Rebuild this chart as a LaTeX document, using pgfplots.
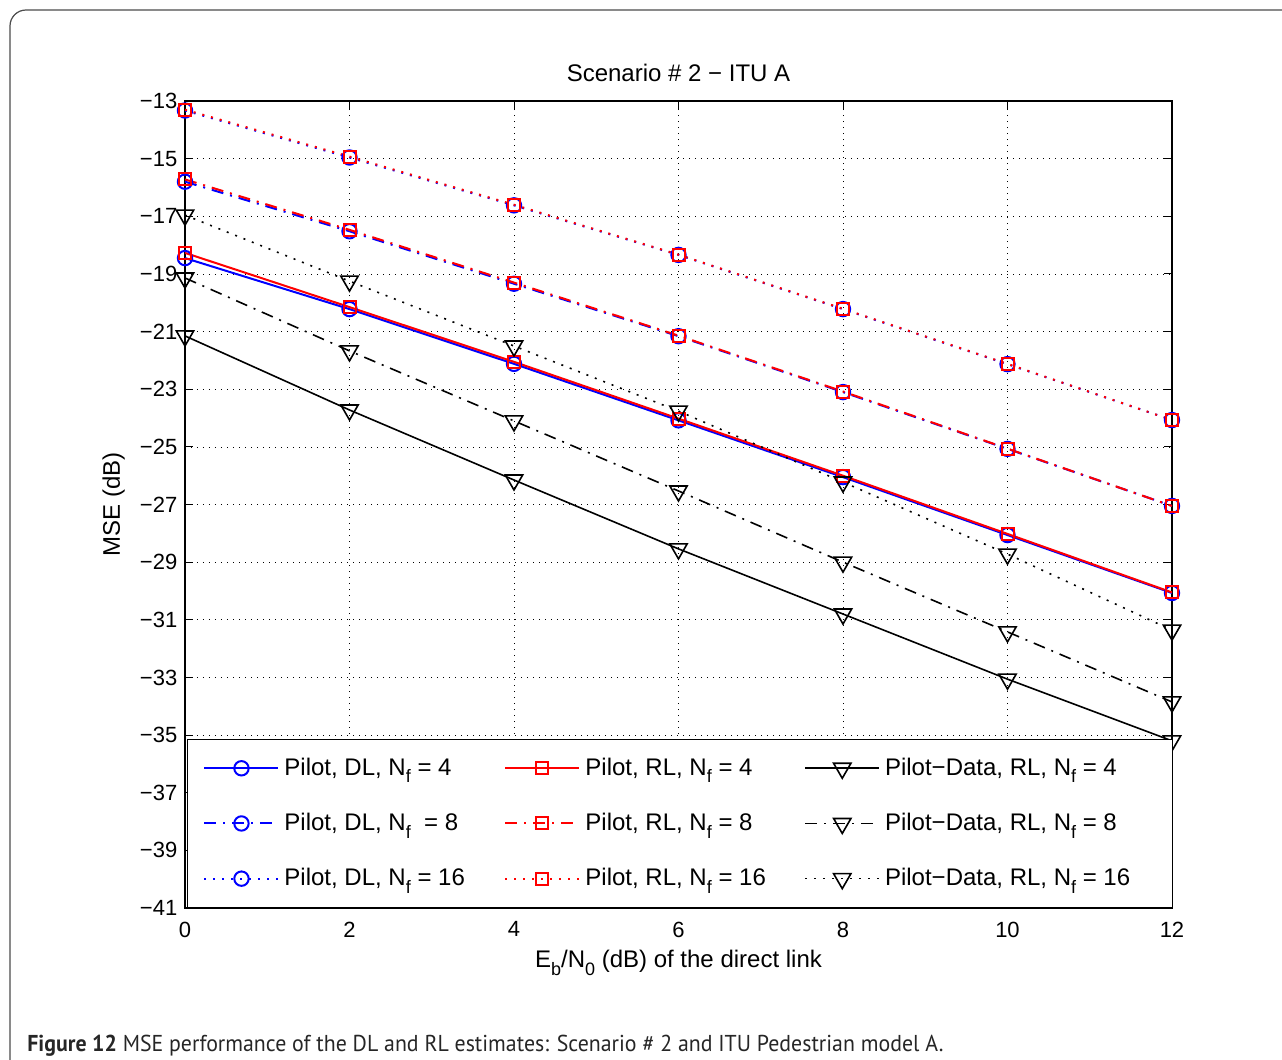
\documentclass[border=0pt]{standalone}
\usepackage{pgfplots}
\pgfplotsset{compat=1.18}
\usepackage{fontspec}
\setmainfont{Liberation Sans}
\newfontfamily\capfont{PT Sans}
\newcommand{\sub}[1]{\raisebox{-0.6ex}{\fontsize{9}{9}\selectfont #1}}
\newcommand{\lent}[2]{\makebox[#1][l]{\rule[-4pt]{0pt}{12pt}#2}}
\begin{document}
\fontsize{11}{13}\selectfont
\begin{tikzpicture}
\useasboundingbox (0,0) rectangle (641pt,-530pt);
\draw[black!70, line width=0.6pt, rounded corners=8pt] (5pt,-5pt) rectangle (665pt,-550pt);
\begin{axis}[
  at={(92.5pt,-454pt)}, anchor=south west, scale only axis,
  width=493.5pt, height=403.5pt,
  xmin=0, xmax=12, ymin=-41, ymax=-13,
  xtick={0,2,...,12},
  ytick={-41,-39,...,-13},
  yticklabels={−41,−39,−37,−35,−33,−31,−29,−27,−25,−23,−21,−19,−17,−15,−13},
  xticklabels={0,2,4,6,8,10,12},
  xticklabel style={yshift=-3pt},
  tick align=inside, major tick length=4pt,
  tick style={black, line width=0.5pt},
  axis line style={black, line width=0.6pt},
  grid=major,
  grid style={black, line width=0.35pt, dash pattern=on 0.5pt off 2.5pt},
  title={Scenario \# 2 − ITU A},
  title style={font=\fontsize{12}{14}\selectfont},
  xlabel={E\sub{b}/N\sub{0} (dB) of the direct link},
  xlabel style={font=\fontsize{12}{14}\selectfont, yshift=1pt},
  ylabel={MSE (dB)},
  ylabel style={font=\fontsize{12}{14}\selectfont},
  legend columns=3,
  legend image code/.code={\draw[mark repeat=2,mark phase=2,#1] plot coordinates {(0pt,0pt) (18.5pt,0pt) (37pt,0pt)};},
  legend style={at={(rel axis cs:0.002,0)}, anchor=south west, draw=black, line width=0.5pt,
    inner xsep=8pt, inner ysep=8.5pt, column sep=0pt, row sep=15.75pt,
    font=\fontsize{12}{14}\selectfont,
    nodes={inner xsep=2.5pt, inner ysep=0.75pt}},
  legend cell align=left,
  dd/.style={dash pattern=on 6pt off 3.5pt on 1pt off 3.5pt},
  dt/.style={dash pattern=on 1pt off 3.5pt},
]
% Nf = 4
\addplot[blue, line width=1pt, mark=o, mark size=3.6pt, mark options={solid}] coordinates {(0,-18.45) (2,-20.22) (4,-22.12) (6,-24.08) (8,-26.05) (10,-28.06) (12,-30.07)};
\addlegendentry{\lent{107.5pt}{Pilot, DL, N\sub{f} = 4}}
\addplot[red, line width=1pt, mark=square, mark size=3pt, mark options={solid}] coordinates {(0,-18.27) (2,-20.15) (4,-22.05) (6,-24.02) (8,-26.0) (10,-28.02) (12,-30.05)};
\addlegendentry{\lent{107pt}{Pilot, RL, N\sub{f} = 4}}
\addplot[black, line width=0.8pt, mark=triangle, mark size=5pt, mark options={solid, rotate=180}] coordinates {(0,-21.15) (2,-23.72) (4,-26.15) (6,-28.54) (8,-30.8) (10,-33.06) (12,-35.2)};
\addlegendentry{\lent{133pt}{Pilot−Data, RL, N\sub{f} = 4}}
% Nf = 8
\addplot[blue, line width=1pt, dd, mark=o, mark size=3.6pt, mark options={solid}] coordinates {(0,-15.8) (2,-17.52) (4,-19.34) (6,-21.16) (8,-23.1) (10,-25.07) (12,-27.05)};
\addlegendentry{\lent{107.5pt}{Pilot, DL, N\sub{f}\ \ = 8}}
\addplot[red, line width=1pt, dd, mark=square, mark size=3pt, mark options={solid}] coordinates {(0,-15.72) (2,-17.47) (4,-19.3) (6,-21.14) (8,-23.08) (10,-25.06) (12,-27.05)};
\addlegendentry{\lent{107pt}{Pilot, RL, N\sub{f} = 8}}
\addplot[black, line width=0.8pt, dd, mark=triangle, mark size=5pt, mark options={solid, rotate=180}] coordinates {(0,-19.14) (2,-21.67) (4,-24.1) (6,-26.53) (8,-29.0) (10,-31.42) (12,-33.85)};
\addlegendentry{\lent{133pt}{Pilot−Data, RL, N\sub{f} = 8}}
% Nf = 16
\addplot[blue, line width=1pt, dt, mark=o, mark size=3.6pt, mark options={solid}] coordinates {(0,-13.33) (2,-14.96) (4,-16.62) (6,-18.34) (8,-20.22) (10,-22.13) (12,-24.07)};
\addlegendentry{\lent{107.5pt}{Pilot, DL, N\sub{f} = 16}}
\addplot[red, line width=1pt, dt, mark=square, mark size=3pt, mark options={solid}] coordinates {(0,-13.3) (2,-14.93) (4,-16.6) (6,-18.33) (8,-20.21) (10,-22.12) (12,-24.07)};
\addlegendentry{\lent{107pt}{Pilot, RL, N\sub{f} = 16}}
\addplot[black, line width=0.8pt, dt, mark=triangle, mark size=5pt, mark options={solid, rotate=180}] coordinates {(0,-16.96) (2,-19.25) (4,-21.5) (6,-23.76) (8,-26.22) (10,-28.72) (12,-31.36)};
\addlegendentry{\lent{133pt}{Pilot−Data, RL, N\sub{f} = 16}}
\end{axis}
\node[anchor=base west, inner sep=0pt, text=black!85] at (13.5pt,-525.5pt)
  {\scalebox{0.95}[1]{\capfont\fontsize{11.5}{13}\selectfont\textbf{Figure 12} MSE performance of the DL and RL estimates: Scenario \# 2 and ITU Pedestrian model A.}};
\end{tikzpicture}
\end{document}
